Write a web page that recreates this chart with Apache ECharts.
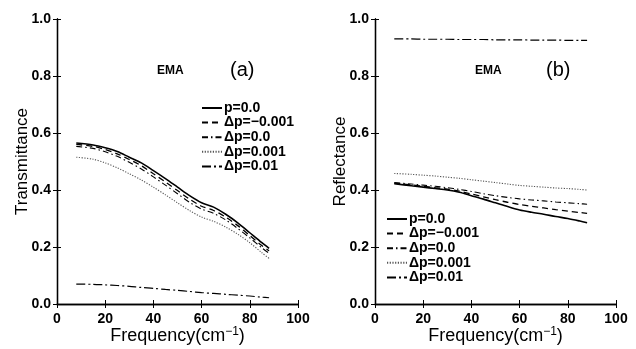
<!DOCTYPE html>
<html><head><meta charset="utf-8">
<script src="https://cdn.jsdelivr.net/npm/echarts@6/dist/echarts.min.js"></script>
<style>html,body{margin:0;padding:0;background:#fff}#c{width:636px;height:349px}</style>
</head><body><div id="c"></div>
<script>
const freq = [8, 15, 20, 25, 30, 35, 40, 45, 50, 55, 60, 65, 70, 75, 80, 85, 88];
const seriesNames = ['p=0.0', 'Δp=−0.001', 'Δp=0.0', 'Δp=0.001', 'Δp=0.01'];
const xTicks = [0, 20, 40, 60, 80, 100];
const yTicks = [0.0, 0.2, 0.4, 0.6, 0.8, 1.0];

// Panel (a) Transmittance
const transP0      = [0.565, 0.558, 0.548, 0.535, 0.515, 0.495, 0.468, 0.440, 0.410, 0.380, 0.355, 0.340, 0.315, 0.285, 0.250, 0.215, 0.195];
const transDpM001  = [0.560, 0.553, 0.542, 0.527, 0.507, 0.485, 0.457, 0.428, 0.398, 0.368, 0.343, 0.328, 0.305, 0.275, 0.240, 0.205, 0.187];
const transDp0     = [0.553, 0.546, 0.534, 0.518, 0.497, 0.474, 0.446, 0.417, 0.387, 0.357, 0.333, 0.318, 0.295, 0.265, 0.232, 0.197, 0.178];
const transDp001   = [0.515, 0.508, 0.495, 0.478, 0.457, 0.435, 0.410, 0.383, 0.355, 0.328, 0.305, 0.290, 0.270, 0.245, 0.215, 0.180, 0.160];
const transDp01    = [0.070, 0.069, 0.067, 0.065, 0.062, 0.058, 0.055, 0.051, 0.048, 0.044, 0.040, 0.037, 0.034, 0.031, 0.028, 0.024, 0.022];

// Panel (b) Reflectance
const reflP0       = [0.422, 0.415, 0.410, 0.405, 0.400, 0.392, 0.380, 0.368, 0.355, 0.342, 0.330, 0.322, 0.315, 0.307, 0.300, 0.291, 0.285];
const reflDpM001   = [0.424, 0.418, 0.413, 0.408, 0.403, 0.396, 0.386, 0.376, 0.366, 0.357, 0.349, 0.343, 0.337, 0.331, 0.326, 0.321, 0.318];
const reflDp0      = [0.426, 0.421, 0.417, 0.413, 0.408, 0.402, 0.395, 0.387, 0.380, 0.374, 0.369, 0.365, 0.362, 0.358, 0.355, 0.352, 0.350];
const reflDp001    = [0.458, 0.455, 0.452, 0.449, 0.445, 0.441, 0.436, 0.431, 0.426, 0.421, 0.416, 0.413, 0.410, 0.407, 0.405, 0.402, 0.400];
const reflDp01     = [0.930, 0.930, 0.929, 0.929, 0.929, 0.928, 0.928, 0.928, 0.927, 0.927, 0.927, 0.926, 0.926, 0.926, 0.925, 0.925, 0.925];

const styles = [
  {type: 'solid', width: 1.6, color: '#000'},
  {type: [6, 4], width: 1.3, color: '#000'},
  {type: [6, 3, 1.5, 3], width: 1.1, color: '#000'},
  {type: [1.2, 1.5], width: 1.1, color: '#555'},
  {type: [9, 3, 2, 3], width: 1.2, color: '#000'}
];
const transData = [transP0, transDpM001, transDp0, transDp001, transDp01];
const reflData = [reflP0, reflDpM001, reflDp0, reflDp001, reflDp01];

const FONT = 'Liberation Sans, Arial, sans-serif';

function mainX(gi) {
  return {
    type: 'value', gridIndex: gi, min: 0, max: 100, interval: 20,
    name: '{a|Frequency(cm}{s|−1}{a|)}', nameLocation: 'middle', nameGap: 22, nameMoveOverlap: false,
    nameTextStyle: {rich: {a: {fontFamily: FONT, fontSize: 18, color: '#000', lineHeight: 20},
      s: {fontFamily: FONT, fontSize: 12, color: '#000', verticalAlign: 'top', lineHeight: 20, padding: [0, 0, 6, 0]}}},
    axisLine: {lineStyle: {color: '#000', width: 1.3}},
    axisTick: {inside: true, length: 4, lineStyle: {color: '#000'}},
    axisLabel: {color: '#000', fontFamily: FONT, fontSize: 14, fontWeight: 'bold', margin: 8, formatter: v => xTicks.includes(v) ? String(v) : ''},
    splitLine: {show: false}
  };
}
function topX(gi) {
  return {type: 'value', gridIndex: gi, position: 'top', min: 0, max: 100, interval: 20,
    axisLine: {lineStyle: {color: '#000', width: 1.3}},
    axisTick: {inside: true, length: 4, lineStyle: {color: '#000'}},
    axisLabel: {show: false}, splitLine: {show: false}};
}
function mainY(gi, name) {
  return {
    type: 'value', gridIndex: gi, min: 0, max: 1, interval: 0.2,
    name: name, nameLocation: 'middle', nameGap: 26, nameMoveOverlap: false,
    nameTextStyle: {fontFamily: FONT, fontSize: 17, color: '#000'},
    axisLine: {show: true, lineStyle: {color: '#000', width: 1.3}},
    axisTick: {inside: true, length: 4, lineStyle: {color: '#000'}},
    axisLabel: {color: '#000', fontFamily: FONT, fontSize: 14, fontWeight: 'bold', margin: 6,
      formatter: v => yTicks.some(t => Math.abs(t - v) < 1e-9) ? v.toFixed(1) : ''},
    splitLine: {show: false}
  };
}
function rightY(gi) {
  return {type: 'value', gridIndex: gi, position: 'right', min: 0, max: 1, interval: 0.2,
    axisLine: {show: true, lineStyle: {color: '#000', width: 1.3}},
    axisTick: {inside: true, length: 4, lineStyle: {color: '#000'}},
    axisLabel: {show: false}, splitLine: {show: false}};
}

const series = [];
transData.forEach((arr, i) => {
  series.push({name: seriesNames[i], type: 'line', xAxisIndex: 0, yAxisIndex: 0, symbol: 'none',
    smooth: 0.3, lineStyle: styles[i], itemStyle: {color: styles[i].color},
    data: freq.map((f, k) => [f, arr[k]]), animation: false});
});
reflData.forEach((arr, i) => {
  series.push({name: seriesNames[i], type: 'line', xAxisIndex: 2, yAxisIndex: 2, symbol: 'none',
    smooth: 0.3, lineStyle: styles[i], itemStyle: {color: styles[i].color},
    data: freq.map((f, k) => [f, arr[k]]), animation: false});
});

const legendCommon = {
  orient: 'vertical', itemWidth: 20, itemHeight: 14, itemGap: 0.6,
  itemStyle: {opacity: 0, borderWidth: 0},
  textStyle: {fontFamily: FONT, fontSize: 14, fontWeight: 'bold', color: '#000', padding: [0, 0, 0, -3]},
  data: seriesNames, selectedMode: false
};

const chart = echarts.init(document.getElementById('c'), null, {renderer: 'canvas'});
chart.setOption({
  backgroundColor: '#fff',
  animation: false,
  grid: [
    {left: 57, top: 19, width: 241, height: 285, outerBoundsMode: 'none', containLabel: false},
    {left: 375, top: 19, width: 241, height: 285, outerBoundsMode: 'none', containLabel: false}
  ],
  xAxis: [mainX(0), topX(0), mainX(1), topX(1)],
  yAxis: [mainY(0, 'Transmittance'), rightY(0), mainY(1, 'Reflectance'), rightY(1)],
  legend: [
    Object.assign({}, legendCommon, {left: 196, top: 96}),
    Object.assign({}, legendCommon, {left: 381, top: 207})
  ],
  graphic: [
    {type: 'text', left: 157, top: 65, style: {text: 'EMA', font: 'bold 12px ' + FONT, fill: '#000'}},
    {type: 'text', left: 230, top: 60, style: {text: '(a)', font: '20px ' + FONT, fill: '#000'}},
    {type: 'text', left: 475, top: 65, style: {text: 'EMA', font: 'bold 12px ' + FONT, fill: '#000'}},
    {type: 'text', left: 546, top: 60, style: {text: '(b)', font: '20px ' + FONT, fill: '#000'}}
  ],
  series: series
});
</script></body></html>
